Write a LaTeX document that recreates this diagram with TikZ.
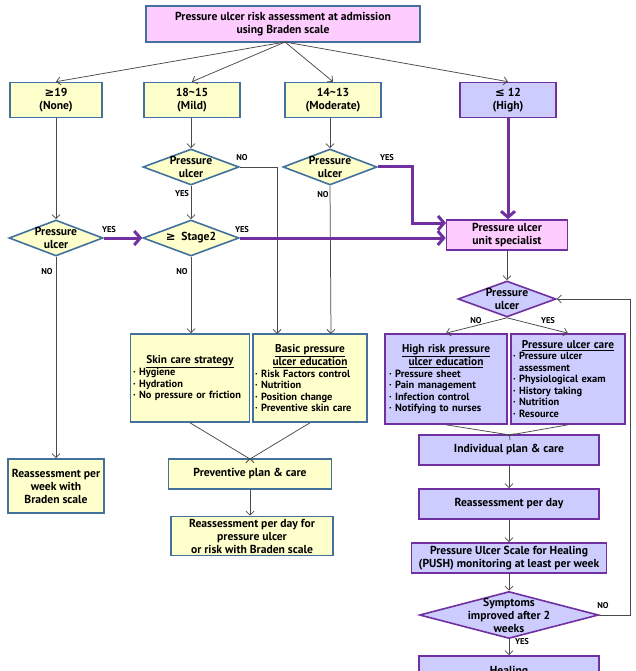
\documentclass[tikz,border=0pt]{standalone}
\usepackage{fontspec}
\setmainfont{PT Sans}
\newfontfamily\symf{DejaVu Sans}
\usetikzlibrary{shapes.geometric,arrows.meta}
\definecolor{yfill}{HTML}{FFFFCC}
\definecolor{bborder}{HTML}{41719C}
\definecolor{pfill}{HTML}{FFCCFF}
\definecolor{lfill}{HTML}{CCCCFF}
\definecolor{purp}{HTML}{7030A0}
\definecolor{lineg}{HTML}{4A4A4A}
\newcommand{\mainf}{\fontsize{11.6}{13}\selectfont\bfseries}
\newcommand{\smallf}{\fontsize{10.4}{11.5}\selectfont\bfseries}
\newcommand{\headf}{\fontsize{11.3}{11.8}\selectfont\bfseries}
\newcommand{\tagf}{\fontsize{8.5}{9}\selectfont\bfseries}
\newcommand{\ctr}[1]{\hfill#1\hfill\null}
\begin{document}
\begin{tikzpicture}[x=1pt,y=-1pt,
  every node/.style={font=\mainf, text=black},
  bx/.style 2 args={rectangle, draw, line width=1.6pt, inner sep=2pt, align=center, minimum width=#1pt, minimum height=#2pt},
  ybox/.style 2 args={bx={#1}{#2}, fill=yfill, draw=bborder},
  vbox/.style 2 args={bx={#1}{#2}, fill=lfill, draw=purp},
  dia/.style 2 args={diamond, draw, line width=1.6pt, inner sep=0pt, minimum width=#1pt, minimum height=#2pt},
  ydia/.style 2 args={dia={#1}{#2}, fill=yfill, draw=bborder},
  vdia/.style 2 args={dia={#1}{#2}, fill=lfill, draw=purp},
  dl/.style={align=center, inner sep=0pt, font=\mainf},
  tag/.style={font=\tagf, inner sep=0pt},
  con/.style={draw=lineg, line width=0.75pt, -{Straight Barb[length=4pt,width=8pt]}},
  seg/.style={draw=lineg, line width=0.75pt},
  pcon/.style={draw=purp, line width=3pt, -{Straight Barb[length=6pt,width=14pt]}},
  pseg/.style={draw=purp, line width=3pt}
]
\useasboundingbox (0,0) rectangle (636,671);
\fill[white] (0,0) rectangle (636,671);
\clip (0,0) rectangle (636,671);

% boxes
\node[bx={274}{36}, fill=pfill, draw=bborder] (top) at (283,24) {Pressure ulcer risk assessment at admission\\using Braden scale};
\node[ybox={92}{35}] (n19) at (56,100) {{\symf\bfseries ≥}19\\(None)};
\node[ybox={96}{35}] (nmild) at (192,100) {18\textasciitilde 15\\(Mild)};
\node[ybox={96}{35}] (nmod) at (333,100) {14\textasciitilde 13\\(Moderate)};
\node[vbox={96}{35}] (nhigh) at (508,100) {{\symf\bfseries ≤} 12\\(High)};

% diamonds
\node[ydia={96}{36}, label={[dl]center:{Pressure\\ulcer}}] (d1) at (191,167) {};
\node[ydia={94}{36}, label={[dl]center:{Pressure\\ulcer}}] (d2) at (330,167) {};
\node[ydia={94}{36}, label={[dl]center:{Pressure\\ulcer}}] (d0) at (56,238) {};
\node[ydia={96}{36}, label={[dl]center:{{\symf\bfseries ≥}\ \ Stage2}}] (ds) at (191,238) {};

\node[bx={121}{30}, fill=pfill, draw=purp] (spec) at (507,235) {Pressure ulcer\\unit specialist};
\node[vdia={98}{36}, label={[dl]center:{Pressure\\ulcer}}] (db) at (507,299) {};

% content boxes
\node[ybox={119}{88}, text width=114pt, align=left, font=\smallf] (skin) at (190,378)
 {{\headf\ctr{\underline{Skin care strategy}}}\\ · Hygiene\\ · Hydration\\ · No pressure or friction};
\node[ybox={114}{88}, text width=110pt, align=left, font=\smallf] (basic) at (310,378)
 {{\headf\ctr{\underline{Basic pressure}}}\\{\headf\ctr{\underline{ulcer education}}}\\ · Risk Factors control\\ · Nutrition\\ · Position change\\ · Preventive skin care};
\node[vbox={122}{90}, text width=114pt, align=left, font=\smallf] (hrisk) at (446,379)
 {{\headf\ctr{\underline{High risk pressure}}}\\{\headf\ctr{\underline{ulcer education}}}\\ · Pressure sheet\\ · Pain management\\ · Infection control\\ · Notifying to nurses};
\node[vbox={114}{90}, text width=110pt, align=left, font=\smallf] (puc) at (568,379)
 {{\headf\ctr{\underline{Pressure ulcer care}}}\\ · Pressure ulcer\\ \phantom{· }assessment\\ · Physiological exam\\ · History taking\\ · Nutrition\\ · Resource};

\node[ybox={96}{54}] (rw) at (56,486) {Reassessment per\\week with\\Braden scale};
\node[ybox={163}{30}] (prev) at (250,474) {Preventive plan \& care};
\node[ybox={162}{39}] (rday) at (252,536) {Reassessment per day for\\pressure ulcer\\or risk with Braden scale};

\node[vbox={180}{30}] (ind) at (509,450) {Individual plan \& care};
\node[vbox={180}{30}] (rd) at (509,504) {Reassessment per day};
\node[vbox={195}{30}] (push) at (509,558) {Pressure Ulcer Scale for Healing\\(PUSH) monitoring at least per week};
\node[vdia={179}{47}, label={[dl]center:{Symptoms\\improved after 2\\weeks}}] (sym) at (509,615) {};
\node[vbox={180}{32}] (heal) at (509,672) {Healing};

% coordinates
\coordinate (toparr) at (285,42);
\coordinate (bin1) at (277,334);
\coordinate (bin2) at (331,334);
\coordinate (specin) at (446,223);
\coordinate (joinP) at (250,459);
\coordinate (joinI) at (510,435);
\coordinate (rtop) at (630,299);
\coordinate (rbot) at (630,615);

% connectors top
\draw[con] (toparr) -- (n19.north);
\draw[con] (toparr) -- (nmild.north);
\draw[con] (toparr) -- (nmod.north);
\draw[con] (toparr) -- (nhigh.north);
\draw[con] (n19.south) -- (d0.north);
\draw[con] (nmild.south -| d1.north) -- (d1.north);
\draw[con] (nmod.south -| d2.north) -- (d2.north);
\draw[pcon] (nhigh.south) -- (nhigh.south |- spec.north);

% middle
\draw[con] (d1.east) -- (d1.east -| bin1) -- (bin1);
\draw[con] (d1.south) -- (ds.north);
\draw[con] (d2.south) -- (bin2);
\draw[pcon] (d2.east) -- (412,167) -- (412,223) -- (specin);
\draw[pcon] (ds.east) -- (ds.east -| spec.west);
\draw[pcon] (d0.east) -- (ds.west);
\draw[con] (d0.south) -- (rw.north);
\draw[con] (ds.south) -- (ds.south |- skin.north);

\draw[seg] (skin.south) -- (joinP);
\draw[seg] (basic.south) -- (joinP);
\draw[con] (joinP) -- (prev.north);
\draw[con] (prev.south) -- (prev.south |- rday.north);

% right
\draw[con] (spec.south) -- (db.north);
\draw[con] (db.south) -- (hrisk.north);
\draw[con] (db.south) -- (puc.north);
\draw[seg] (hrisk.south) -- (joinI);
\draw[seg] (puc.south) -- (joinI);
\draw[con] (joinI) -- (ind.north);
\draw[con] (ind.south) -- (rd.north);
\draw[con] (rd.south) -- (push.north);
\draw[con] (push.south) -- (sym.north);
\draw[con] (sym.south) -- (heal.north);
\draw[con] (sym.east) -- (rbot) -- (rtop) -- (db.east);

% tags
\node[tag] (t1) at (242,158) {NO};
\node[tag] (t2) at (182,194) {YES};
\node[tag] (t3) at (109,230) {YES};
\node[tag] (t4) at (47,272) {NO};
\node[tag] (t5) at (242,230) {YES};
\node[tag] (t6) at (182,272) {NO};
\node[tag] (t7) at (387,158) {YES};
\node[tag] (t8) at (323,195) {NO};
\node[tag] (t9) at (476,321) {NO};
\node[tag] (t10) at (548,321) {YES};
\node[tag] (t11) at (603,606) {NO};
\node[tag] (t12) at (522,642) {YES};
\end{tikzpicture}
\end{document}
